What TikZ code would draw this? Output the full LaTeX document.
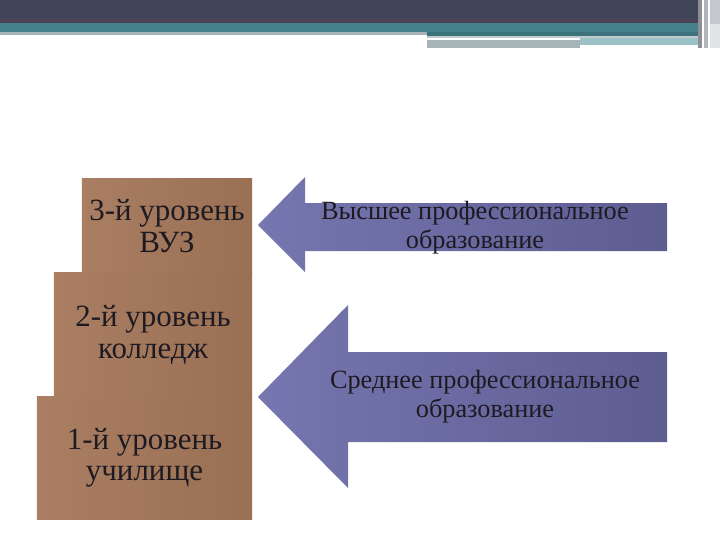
\documentclass[tikz,border=0pt]{standalone}
\usepackage{fontspec}
\setmainfont{Liberation Serif}
\usetikzlibrary{positioning}
\definecolor{banddark}{HTML}{3F4456}
\definecolor{bandplum}{HTML}{4A4459}
\definecolor{bandteal}{HTML}{44818A}
\definecolor{tealdeep}{HTML}{3C727C}
\definecolor{linegrey}{HTML}{A6B4B8}
\definecolor{lineteal}{HTML}{9CC2C8}
\definecolor{boxlight}{HTML}{A97E62}
\definecolor{boxdark}{HTML}{9A7054}
\definecolor{arrowlight}{HTML}{7676B0}
\definecolor{arrowdark}{HTML}{5E5D92}
\definecolor{textdark}{HTML}{1E1A22}
\tikzstyle{levelbox}=[rectangle, left color=boxlight, right color=boxdark, inner sep=0pt, align=center, text=textdark, font=\fontsize{22}{22.2}\selectfont]
\tikzstyle{arrowtext}=[align=center, text=textdark, font=\fontsize{18.7}{20.5}\selectfont]
\tikzstyle{bigarrow}=[left color=arrowlight, right color=arrowdark]

\begin{document}
\begin{tikzpicture}[x=0.025cm, y=-0.025cm]
		   \useasboundingbox (0,0) rectangle (720,540);
		   % header bands
		   \begin{scope}
			   \fill[banddark] (0,0) rectangle (702,23);
			   \fill[bandplum] (0,18) rectangle (702,23);
			   \fill[bandteal] (0,23) rectangle (702,32);
			   \fill[linegrey] (0,32) rectangle (427,35);
			   \fill[tealdeep] (427,32) rectangle (702,36);
			   \fill[linegrey!70] (427,36) rectangle (702,38);
			   \fill[linegrey] (427,40) rectangle (668,45);
			   \fill[lineteal] (580,38) rectangle (700,45);
			   \fill[linegrey] (427,45) rectangle (580,48);
			   \fill[banddark!60] (698,0) rectangle (702,48);
			   \fill[banddark!40] (704,0) rectangle (708,48);
			   \fill[banddark!30] (710,0) rectangle (720,24);
			   \fill[banddark!15] (710,24) rectangle (720,48);
		   \end{scope}
		   % levels
		   \begin{scope}
			   \node (lvl3) at (167,226)[levelbox, minimum width=4.25cm, minimum height=2.35cm] {3-й уровень\\ВУЗ};
			   \node (lvl2) at (153,335)[levelbox, minimum width=4.95cm, minimum height=3.1cm] {2-й уровень\\колледж};
			   \node (lvl1) at (144.5,458)[levelbox, minimum width=5.375cm, minimum height=3.05cm] {1-й уровень\\училище};
		   \end{scope}
		   % arrows
		   \begin{scope}
			   \shade[bigarrow] (258,225) -- (305,177) -- (305,203) -- (667,203) -- (667,251) -- (305,251) -- (305,272) -- cycle;
			   \shade[bigarrow] (258,397) -- (348,305) -- (348,352) -- (667,352) -- (667,442) -- (348,442) -- (348,488) -- cycle;
			   \node (high) at (475,228)[arrowtext] {Высшее профессиональное\\образование};
			   \node (mid) at (485,397)[arrowtext] {Среднее профессиональное\\образование};
		   \end{scope}
	   \end{tikzpicture}
\end{document}
